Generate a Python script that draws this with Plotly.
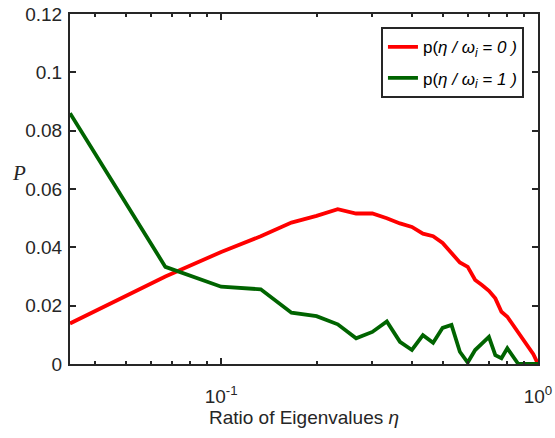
import numpy as np
import plotly.graph_objects as go

# Eigenvalue-ratio bins (k/30, k = 1..30)
eta = [k / 30 for k in range(1, 31)]

# Class-conditional probabilities of the eigenvalue ratio
p_class0 = [0.0139, 0.0300, 0.0384, 0.0438, 0.0485, 0.0508, 0.0531, 0.0516,
            0.0516, 0.0500, 0.0482, 0.0470, 0.0447, 0.0438, 0.0415, 0.0381,
            0.0348, 0.0333, 0.0288, 0.0270, 0.0251, 0.0225, 0.0179, 0.0162,
            0.0134, 0.0105, 0.0082, 0.0059, 0.0034, 0.0000]
p_class1 = [0.0860, 0.0333, 0.0265, 0.0256, 0.0176, 0.0164, 0.0136, 0.0088,
            0.0110, 0.0146, 0.0076, 0.0048, 0.0099, 0.0073, 0.0124, 0.0134,
            0.0042, 0.0005, 0.0048, 0.0071, 0.0093, 0.0030, 0.0020, 0.0054,
            0.0025, 0.0000, 0.0000, 0.0000, 0.0000, 0.0000]

names = ["p(<i>η / ω<sub>i</sub> = 0 )</i>", "p(<i>η / ω<sub>i</sub> = 1 )</i>"]
colors = ["#ff0000", "#006400"]

y_ticks = [0, 0.02, 0.04, 0.06, 0.08, 0.1, 0.12]
y_tick_text = ["0", "0.02", "0.04", "0.06", "0.08", "0.1", "0.12"]
x_ticks = [0.1, 1]
x_tick_text = ["10<sup>-1</sup>", "10<sup>0</sup>"]

axis_color = "#262626"
sans = "Liberation Sans, Arial, sans-serif"
font = dict(family=sans, size=19, color=axis_color)

fig = go.Figure()
for i, (ys, name, col) in enumerate(zip([p_class0, p_class1], names, colors)):
    fig.add_trace(go.Scatter(x=eta, y=ys, mode="lines", name=name,
                             legendgroup=f"g{i}",
                             line=dict(color=col, width=3.8)))

fig.update_layout(
    width=555, height=438,
    margin=dict(l=70, r=17, t=14, b=74, autoexpand=False),
    paper_bgcolor="white", plot_bgcolor="white",
    font=font,
    showlegend=True,
    legend=dict(x=0.970, y=0.962, xanchor="right", yanchor="top",
                bgcolor="white", bordercolor=axis_color, borderwidth=2,
                font=dict(family=sans, size=17, color="black"),
                itemwidth=30, tracegroupgap=6),
    xaxis=dict(type="log", range=[np.log10(1 / 30), 0], automargin=False,
               tickvals=x_ticks, ticktext=x_tick_text,
               ticks="inside", ticklen=6, tickwidth=2, tickcolor=axis_color,
               ticklabelstandoff=14,
               minor=dict(ticks="inside", ticklen=3, tickwidth=2, tickcolor=axis_color,
                          tickvals=[0.04, 0.05, 0.06, 0.07, 0.08, 0.09,
                                    0.2, 0.3, 0.4, 0.5, 0.6, 0.7, 0.8, 0.9]),
               showline=True, linecolor=axis_color, linewidth=2, mirror="ticks",
               showgrid=False, zeroline=False,
               title=dict(text="Ratio of Eigenvalues <i>η</i>", standoff=1,
                          font=dict(size=19, color=axis_color))),
    yaxis=dict(range=[0, 0.12], tickvals=y_ticks, ticktext=y_tick_text,
               automargin=False,
               ticks="inside", ticklen=6, tickwidth=2, tickcolor=axis_color,
               ticklabelstandoff=2,
               showline=True, linecolor=axis_color, linewidth=2, mirror="ticks",
               showgrid=False, zeroline=False),
)

fig.add_annotation(text="<i>P</i>", xref="paper", yref="paper",
                   x=-0.128, y=0.545, showarrow=False,
                   font=dict(family="Liberation Serif, Times New Roman, serif",
                             size=21, color=axis_color))

fig.write_html("out.html")
